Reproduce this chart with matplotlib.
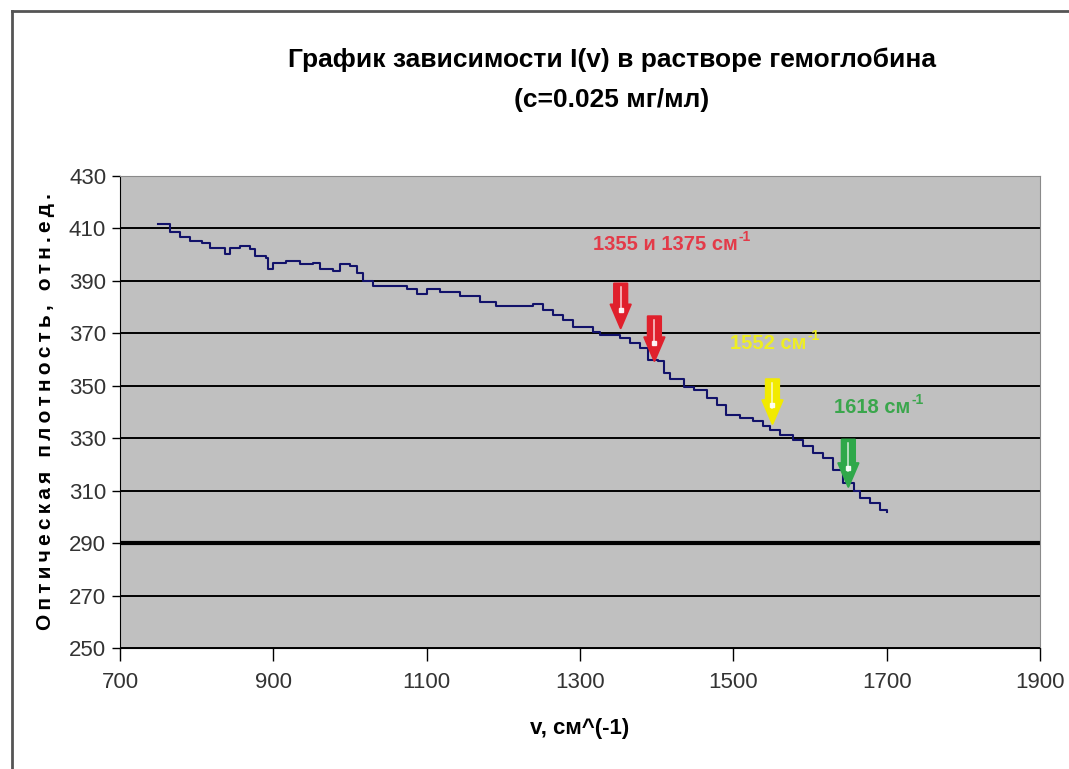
import matplotlib
matplotlib.use("Agg")
import matplotlib.pyplot as plt
from matplotlib.lines import Line2D

# Spectrum values
wavenumber = [750, 765, 778, 791, 807, 817, 837, 843, 857, 870,
              876, 891, 893, 900, 917, 935, 952, 961, 978, 987,
              1000, 1009, 1017, 1030, 1056, 1074, 1087, 1100, 1117, 1143,
              1159, 1170, 1191, 1217, 1239, 1252, 1265, 1278, 1291, 1309,
              1317, 1326, 1343, 1352, 1365, 1378, 1389, 1402, 1409, 1417,
              1435, 1448, 1465, 1478, 1491, 1509, 1526, 1539, 1548, 1561,
              1578, 1591, 1604, 1617, 1630, 1643, 1657, 1665, 1678, 1691,
              1700]
intensity = [411.8, 408.5, 406.6, 405.3, 404.6, 402.7, 400.2, 402.7, 403.4, 402.1,
             399.6, 398.9, 394.5, 397.0, 397.6, 396.6, 397.0, 394.5, 393.9, 396.4,
             395.7, 393.2, 390.0, 388.0, 388.0, 386.8, 384.9, 386.9, 385.6, 384.4,
             384.4, 381.9, 380.6, 380.6, 381.3, 378.8, 376.9, 375.0, 372.5, 372.5,
             370.6, 369.4, 369.4, 368.1, 366.3, 364.4, 360.0, 359.4, 355.0, 352.5,
             349.4, 348.4, 345.3, 342.7, 339.0, 337.7, 336.4, 334.5, 333.2, 331.3,
             329.4, 326.9, 324.4, 322.5, 318.0, 313.0, 309.8, 307.3, 305.4, 302.8,
             301.8]

xticks = [700, 900, 1100, 1300, 1500, 1700, 1900]
yticks = [250, 270, 290, 310, 330, 350, 370, 390, 410, 430]

# arrows: x, top y, tip y, colour
arrow_x = [1353, 1397, 1551, 1650]
arrow_top = [389, 376.5, 352.5, 329.5]
arrow_tip = [372, 359.5, 335.5, 311.5]
arrow_col = ["#e0202c", "#e0202c", "#f2ea00", "#2fa84a"]

# labels: text, x, y, colour
label_txt = ["1355 и 1375 см", "1552 см", "1618 см"]
label_x = [1411, 1545, 1681]
label_y = [403.7, 366.3, 341.8]
label_col = ["#e33a48", "#eeee22", "#3aa64c"]

sans = ["Liberation Sans", "DejaVu Sans"]
navy = "#12126a"

fig = plt.figure(figsize=(10.69, 7.69), dpi=100)
fig.patch.set_facecolor("white")
ax = fig.add_axes([0.1123, 0.1573, 0.8606, 0.6138])
ax.set_facecolor("#c0c0c0")

ax.plot(wavenumber, intensity, drawstyle="steps-post", color=navy, lw=1.5, zorder=3)

ax.set_xlim(700, 1900)
ax.set_ylim(250, 430)
ax.set_xticks(xticks)
ax.set_yticks(yticks)
ax.set_xticklabels([str(v) for v in xticks], family=sans, fontsize=16)
ax.set_yticklabels([str(v) for v in yticks], family=sans, fontsize=16)
ax.tick_params(axis="x", direction="out", length=9, width=1, pad=8, colors="black")
ax.tick_params(axis="y", direction="out", length=6, width=1, pad=4, colors="black")
for lbl in ax.get_xticklabels() + ax.get_yticklabels():
    lbl.set_color("#333333")

ax.yaxis.grid(True, color="black", lw=1.4)
ax.axhline(290, color="black", lw=3, zorder=2)
ax.set_axisbelow(True)

ax.spines["left"].set_color("black")
ax.spines["bottom"].set_color("black")
ax.spines["top"].set_color("#8a8a8a")
ax.spines["right"].set_color("#8a8a8a")

# filled block arrows with a thin light streak down the middle
for x, y0, y1, c in zip(arrow_x, arrow_top, arrow_tip, arrow_col):
    ax.annotate("", xy=(x, y1), xytext=(x, y0),
                arrowprops=dict(arrowstyle="simple,head_width=1.45,head_length=1.7,tail_width=0.95",
                                fc=c, ec=c, lw=1.5, shrinkA=0, shrinkB=0),
                zorder=5)
    ax.plot([x, x], [y0 - 1.5, y1 + 6], color="white", lw=1.1, alpha=0.8, zorder=6)
    ax.plot([x], [y1 + 7], "s", color="white", ms=3, alpha=0.9, zorder=6)

# labels with superscript -1
for t, x, y, c in zip(label_txt, label_x, label_y, label_col):
    txt = ax.text(x, y, t, ha="center", va="center", color=c,
                  family=sans, fontsize=14.5, fontweight="bold", zorder=6)
    fig.canvas.draw()
    bb = txt.get_window_extent()
    inv = ax.transData.inverted()
    xr, yt = inv.transform((bb.x1 + 1, bb.y1 - 2))
    ax.text(xr, yt, "-1", ha="left", va="center", color=c,
            family=sans, fontsize=10, fontweight="bold", zorder=6)

ax.set_xlabel("v, см^(-1)", family=sans, fontsize=16, fontweight="bold",
              labelpad=18)
# the original label is letter-spaced; thin spaces between letters mimic that
ylab = "Оптическая плотность, отн.ед."
ax.set_ylabel("\u2009".join(ylab), family=sans,
              fontsize=15, fontweight="bold", labelpad=10)

fig.text(0.5725, 0.922, "График зависимости I(v) в растворе гемоглобина",
         ha="center", va="center", family=sans, fontsize=19, fontweight="bold")
fig.text(0.5725, 0.870, "(c=0.025 мг/мл)",
         ha="center", va="center", family=sans, fontsize=19, fontweight="bold")

# outer border (left and top only, as in the picture)
bx = 12 / 1069
by = 1 - 11 / 769
fig.add_artist(Line2D([bx, bx], [0, by], transform=fig.transFigure, color="#555555", lw=2))
fig.add_artist(Line2D([bx, 1], [by, by], transform=fig.transFigure, color="#555555", lw=2))

fig.savefig("out.png", dpi=100)
